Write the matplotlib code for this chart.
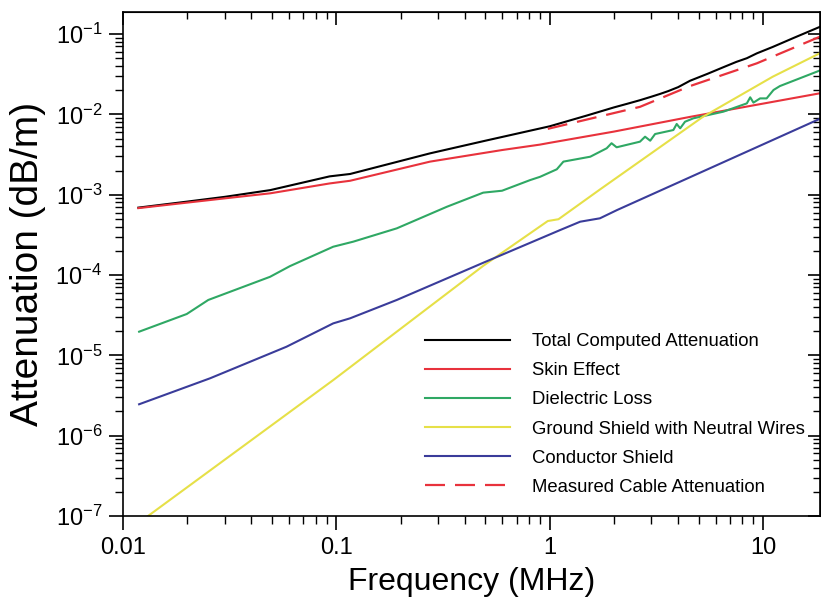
import matplotlib
matplotlib.use('Agg')
import matplotlib.pyplot as plt
import matplotlib.ticker as mticker

plt.rcParams['font.family'] = ['Liberation Sans', 'DejaVu Sans']
plt.rcParams['mathtext.default'] = 'regular'

# values (MHz, dB/m)
f_total = [0.0118, 0.02, 0.03, 0.049, 0.093, 0.116, 0.275, 0.5, 1.0, 1.5, 2.0, 2.3, 2.65,
           3.0, 3.3, 3.6, 4.0, 4.55, 5.5, 6.5, 7.5, 8.4, 9.36, 11.1, 14.0, 18.5]
a_total = [6.9e-4, 8.2e-4, 9.4e-4, 1.14e-3, 1.69e-3, 1.81e-3, 3.27e-3, 4.7e-3, 7.1e-3, 9.7e-3,
           1.22e-2, 1.35e-2, 1.50e-2, 1.66e-2, 1.80e-2, 1.95e-2, 2.18e-2, 2.62e-2, 3.2e-2,
           3.85e-2, 4.5e-2, 5.0e-2, 5.75e-2, 6.9e-2, 9.0e-2, 0.123]

f_skin = [0.0118, 0.03, 0.049, 0.093, 0.116, 0.275, 0.6, 0.9, 1.0, 2.0, 4.55, 10.0, 18.5]
a_skin = [6.8e-4, 9.0e-4, 1.04e-3, 1.38e-3, 1.49e-3, 2.58e-3, 3.6e-3, 4.2e-3, 4.42e-3,
          6.1e-3, 9.3e-3, 1.36e-2, 1.83e-2]

f_diel = [0.0119, 0.0199, 0.0251, 0.0489, 0.0606, 0.0967, 0.12, 0.192, 0.33, 0.488, 0.598,
          0.81, 0.902, 1.08, 1.16, 1.55, 1.85, 1.95, 2.06, 2.65, 2.80, 2.96, 3.12, 3.80, 3.94,
          4.09, 4.31, 4.72, 6.52, 8.4, 8.71, 9.02, 9.69, 10.4, 11.2, 12.0, 18.7]
a_diel = [1.97e-5, 3.27e-5, 4.89e-5, 9.5e-5, 1.29e-4, 2.25e-4, 2.6e-4, 3.81e-4, 7.08e-4,
          1.06e-3, 1.12e-3, 1.52e-3, 1.67e-3, 2.07e-3, 2.58e-3, 2.97e-3, 3.78e-3, 4.37e-3,
          3.89e-3, 4.57e-3, 5.27e-3, 4.7e-3, 5.69e-3, 6.38e-3, 7.59e-3, 6.7e-3, 8.1e-3,
          8.93e-3, 1.08e-2, 1.37e-2, 1.63e-2, 1.40e-2, 1.58e-2, 1.58e-2, 2.01e-2, 2.25e-2,
          3.56e-2]

f_ground = [0.0131, 0.0968, 0.488, 0.98, 1.1, 1.72, 5.24, 11.1, 18.7]
a_ground = [1e-7, 4.93e-6, 1.3e-4, 4.7e-4, 4.95e-4, 1.16e-3, 9.35e-3, 2.94e-2, 5.86e-2]

f_cond = [0.0119, 0.0256, 0.0584, 0.0967, 0.116, 0.192, 0.488, 1.12, 1.39, 1.72, 2.07, 18.7]
a_cond = [2.46e-6, 5.18e-6, 1.28e-5, 2.5e-5, 2.89e-5, 4.89e-5, 1.42e-4, 3.63e-4, 4.61e-4,
          5.08e-4, 6.44e-4, 8.93e-3]

f_meas = [0.98, 2.65, 4.55, 9.36, 18.5]
a_meas = [6.6e-3, 1.24e-2, 2.25e-2, 4.32e-2, 9.27e-2]

fig = plt.figure(figsize=(8.21, 6.05), dpi=100)
ax = fig.add_axes([123 / 821, 1 - 516 / 605, 697 / 821, 504 / 605])

lw = 1.5
ax.plot(f_total, a_total, color='black', lw=lw, label='Total Computed Attenuation')
ax.plot(f_skin, a_skin, color='#e8323c', lw=lw, label='Skin Effect')
ax.plot(f_diel, a_diel, color='#2fa864', lw=lw, label='Dielectric Loss')
ax.plot(f_ground, a_ground, color='#e6e048', lw=lw, label='Ground Shield with Neutral Wires')
ax.plot(f_cond, a_cond, color='#3a3c9a', lw=lw, label='Conductor Shield')
ax.plot(f_meas, a_meas, color='#e8323c', lw=1.6, ls=(0, (9, 4.5)),
        label='Measured Cable Attenuation')

ax.set_xscale('log')
ax.set_yscale('log')
ax.set_xlim(0.01, 18.5)
ax.set_ylim(1e-7, 0.188)

ax.xaxis.set_major_locator(mticker.FixedLocator([0.01, 0.1, 1, 10]))
ax.xaxis.set_major_formatter(mticker.FixedFormatter(['0.01', '0.1', '1', '10']))
ax.xaxis.set_minor_locator(mticker.LogLocator(base=10, subs=range(2, 10), numticks=20))
ax.xaxis.set_minor_formatter(mticker.NullFormatter())
ax.yaxis.set_major_locator(mticker.LogLocator(base=10, numticks=20))
ax.yaxis.set_minor_locator(mticker.LogLocator(base=10, subs=range(2, 10), numticks=20))
ax.yaxis.set_minor_formatter(mticker.NullFormatter())

ax.tick_params(which='major', direction='out', length=10, width=1.2, labelsize=17, pad=5)
ax.tick_params(which='minor', direction='out', length=5.5, width=1.0)
for s in ax.spines.values():
    s.set_linewidth(1.2)

# inward ticks on top and right
top = ax.secondary_xaxis('top')
top.xaxis.set_major_locator(mticker.FixedLocator([0.01, 0.1, 1, 10]))
top.xaxis.set_minor_locator(mticker.LogLocator(base=10, subs=range(2, 10), numticks=20))
top.tick_params(which='major', direction='in', length=9, width=1.2, labeltop=False)
top.tick_params(which='minor', direction='in', length=5, width=1.0)
right = ax.secondary_yaxis('right')
right.yaxis.set_major_locator(mticker.LogLocator(base=10, numticks=20))
right.yaxis.set_minor_locator(mticker.LogLocator(base=10, subs=range(2, 10), numticks=20))
right.tick_params(which='major', direction='in', length=9, width=1.2, labelright=False)
right.tick_params(which='minor', direction='in', length=5, width=1.0)

ax.set_xlabel('Frequency (MHz)', fontsize=23, labelpad=6)
ax.set_ylabel('Attenuation (dB/m)', fontsize=28, labelpad=7)

ax.legend(loc='upper left', bbox_to_anchor=(425 / 821, 1 - 333 / 605),
          bbox_transform=fig.transFigure, frameon=False, fontsize=13.3,
          handlelength=4.6, handletextpad=1.2, labelspacing=0.66, borderpad=0,
          borderaxespad=0)

fig.savefig('out.png', dpi=100)
